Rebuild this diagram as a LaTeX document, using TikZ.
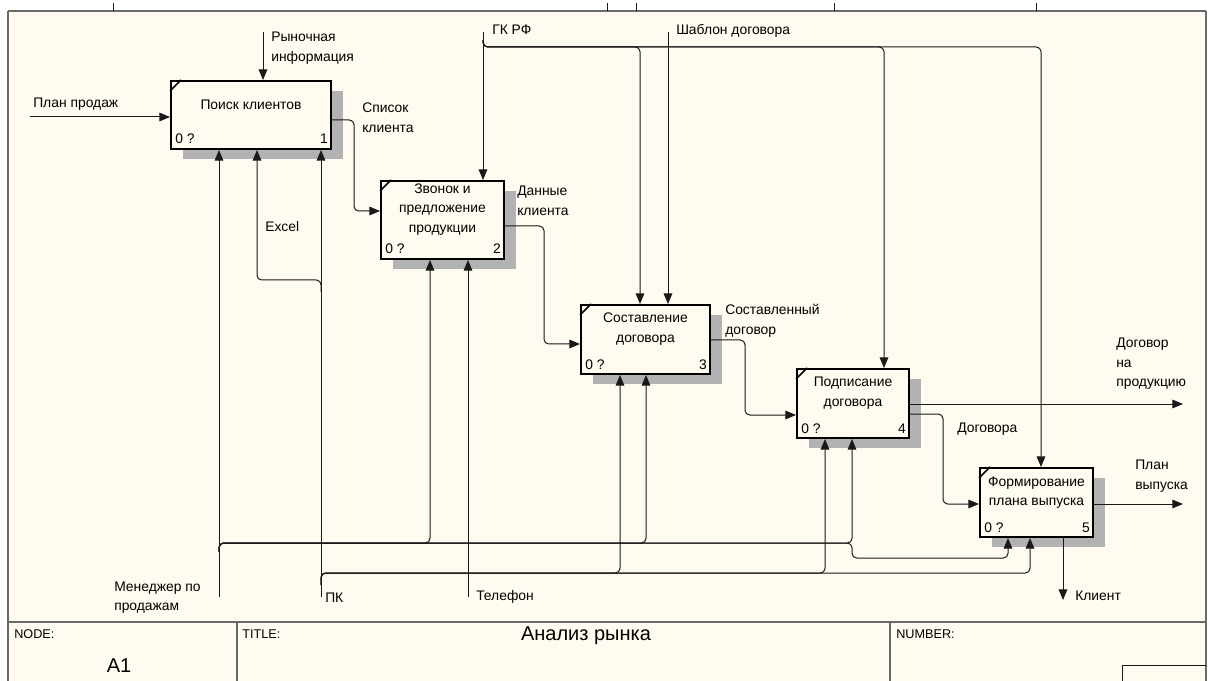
\documentclass[tikz,border=0pt]{standalone}
\usepackage{fontspec}
\setmainfont{Liberation Sans}
\usetikzlibrary{arrows.meta,shadows}
\definecolor{paper}{RGB}{255,251,240}
\definecolor{ink}{RGB}{25,25,25}
\definecolor{framegray}{RGB}{105,105,105}

\tikzset{
  flow/.style={draw=ink, line width=0.75pt, rounded corners=3.5pt,
    -{Triangle[length=8pt,width=6.5pt]}},
  fbox/.style={draw=black, line width=1.5pt, fill=paper, inner sep=0pt,
    drop shadow={shadow xshift=9pt, shadow yshift=-7.5pt, fill=gray!60, opacity=1}},
  ttl/.style={font=\fontsize{10.4}{14.6}\selectfont, align=center, inner sep=0pt},
  lbl/.style={font=\fontsize{10.4}{14.6}\selectfont, align=left, anchor=west, inner sep=0pt},
  tag/.style={font=\fontsize{10.4}{12}\selectfont, inner sep=0pt},
  hdr/.style={font=\fontsize{9.5}{11}\selectfont, anchor=west, inner sep=0pt},
  rule/.style={draw=framegray, line width=1.5pt},
}

\begin{document}
\begin{tikzpicture}[x=0.75pt,y=-0.75pt]
% sheet
\fill[white] (0,0) rectangle (1208,681);
\fill[paper] (8,11) rectangle (1206,681);
\useasboundingbox (0,0) rectangle (1208,681);

% sheet frame and title block
\draw[rule] (8,11) -- (1206,11);
\draw[rule] (8,11) -- (8,681);
\draw[rule] (1206,11) -- (1206,681);
\draw[rule] (8,622) -- (1206,622);
\draw[rule] (237,622) -- (237,681);
\draw[rule] (890,622) -- (890,681);
\draw[ink, line width=0.75pt] (1122,681) -- (1122,665) -- (1206,665);
\foreach \t in {113,607,636,834,1036}
  \draw[ink, line width=0.75pt] (\t,3) -- (\t,11);

% activity boxes
\node[fbox, minimum width=120pt,   minimum height=51pt]    (b1) at (251,115)      {};
\node[fbox, minimum width=92.25pt, minimum height=58.5pt]  (b2) at (442.5,220)    {};
\node[fbox, minimum width=96.75pt, minimum height=51.75pt] (b3) at (645.5,339.5)  {};
\node[fbox, minimum width=84pt,    minimum height=51.75pt] (b4) at (853,403.5)    {};
\node[fbox, minimum width=84.75pt, minimum height=51.75pt] (b5) at (1036.5,502.5) {};

\foreach \b/\n in {b1/1,b2/2,b3/3,b4/4,b5/5} {
  \draw[line width=1.2pt] ([shift={(0,11)}]\b.north west) -- ([shift={(11,0)}]\b.north west);
  \node[tag, anchor=base west] (\b-cost) at ([shift={(5,-6)}]\b.south west) {0 ?};
  \node[tag, anchor=base east] (\b-num)  at ([shift={(-4,-6)}]\b.south east) {\n};
}

\node[ttl] (t1) at ([shift={(0,-10.5)}]b1.center) {Поиск клиентов};
\node[ttl] (t2) at ([shift={(0,-10.5)}]b2.center) {Звонок и\\предложение\\продукции};
\node[ttl] (t3) at ([shift={(0,-10.5)}]b3.center) {Составление\\договора};
\node[ttl] (t4) at ([shift={(0,-10.5)}]b4.center) {Подписание\\договора};
\node[ttl] (t5) at ([shift={(0,-10)}]b5.center) {Формирование\\плана выпуска};

% inputs
\coordinate (plan) at (30,117);
\draw[flow] (plan) -- (plan -| b1.west);

% outputs passed down the staircase
\coordinate (o1a) at (354,120); \coordinate (o1b) at (354,211);
\draw[flow] (b1.east |- o1a) -- (o1a) -- (o1b) -- (o1b -| b2.west);
\coordinate (o2a) at (544,226); \coordinate (o2b) at (544,344);
\draw[flow] (b2.east |- o2a) -- (o2a) -- (o2b) -- (o2b -| b3.west);
\coordinate (o3a) at (745,340); \coordinate (o3b) at (745,415);
\draw[flow] (b3.east |- o3a) -- (o3a) -- (o3b) -- (o3b -| b4.west);
\coordinate (o4a) at (943,414); \coordinate (o4b) at (943,504);
\draw[flow] (b4.east |- o4a) -- (o4a) -- (o4b) -- (o4b -| b5.west);

% final outputs
\coordinate (prod) at (1183,404);
\draw[flow] (b4.east |- prod) -- (prod);
\coordinate (plan5) at (1183,504);
\draw[flow] (b5.east |- plan5) -- (plan5);
\coordinate (client) at (1063,600);
\draw[flow] (b5.south -| client) -- (client);

% controls
\coordinate (market) at (263,32);
\draw[flow] (market) -- (market |- b1.north);
\coordinate (gk) at (483,32);
\draw[flow] (gk) -- (gk |- b2.north);
\coordinate (gkb) at (483,40); \coordinate (gkj) at (483,47);
\coordinate (c3) at (640,47); \coordinate (c4) at (884,47); \coordinate (c5) at (1041,47);
\draw[flow] (gkb) -- (gkj) -- (c3) -- (c3 |- b3.north);
\draw[flow] (gkb) -- (gkj) -- (c4) -- (c4 |- b4.north);
\draw[flow] (gkb) -- (gkj) -- (c5) -- (c5 |- b5.north);
\coordinate (tpl) at (668,32);
\draw[flow] (tpl) -- (tpl |- b3.north);

% mechanism: sales manager
\coordinate (mgr) at (219,597);
\draw[flow] (mgr) -- (mgr |- b1.south);
\coordinate (mgrb) at (219,552); \coordinate (mgrj) at (219,543);
\coordinate (m2) at (430,543); \coordinate (m3) at (646,543); \coordinate (m4) at (852,543);
\coordinate (m5a) at (852,558); \coordinate (m5b) at (1008,558);
\draw[flow] (mgrb) -- (mgrj) -- (m2) -- (m2 |- b2.south);
\draw[flow] (mgrb) -- (mgrj) -- (m3) -- (m3 |- b3.south);
\draw[flow] (mgrb) -- (mgrj) -- (m4) -- (m4 |- b4.south);
\draw[flow] (mgrb) -- (mgrj) -- (m4) -- (m5a) -- (m5b) -- (m5b |- b5.south);

% mechanism: PC and Excel
\coordinate (pc) at (321,597);
\draw[flow] (pc) -- (pc |- b1.south);
\coordinate (xb) at (321,292); \coordinate (xj) at (321,280); \coordinate (xl) at (257,280);
\draw[flow] (xb) -- (xj) -- (xl) -- (xl |- b1.south);
\coordinate (pcb) at (321,585); \coordinate (pcj) at (321,573);
\coordinate (p3) at (620,573); \coordinate (p4) at (825,573); \coordinate (p5) at (1030,573);
\draw[flow] (pcb) -- (pcj) -- (p3) -- (p3 |- b3.south);
\draw[flow] (pcb) -- (pcj) -- (p4) -- (p4 |- b4.south);
\draw[flow] (pcb) -- (pcj) -- (p5) -- (p5 |- b5.south);

% mechanism: telephone
\coordinate (tel) at (468,597);
\draw[flow] (tel) -- (tel |- b2.south);

% arrow labels
\node[lbl] (lplan)   at (33,104)    {План продаж};
\node[lbl] (lmarket) at (271,48)    {Рыночная\\информация};
\node[lbl] (llist)   at (362,117.5) {Список\\клиента};
\node[lbl] (lexcel)  at (265,227)   {Excel};
\node[lbl] (lgk)     at (492,30)    {ГК РФ};
\node[lbl] (ltpl)    at (676,31)    {Шаблон договора};
\node[lbl] (ldata)   at (517,201)   {Данные\\клиента};
\node[lbl] (ldraft)  at (725,321)   {Составленный\\договор};
\node[lbl] (lprod)   at (1116,364)  {Договор\\на\\продукцию};
\node[lbl] (lcontr)  at (957,429)   {Договора};
\node[lbl] (lplan5)  at (1135,476)  {План\\выпуска};
\node[lbl] (lclient) at (1075,596)  {Клиент};
\node[lbl] (lmgr)    at (114,597.5) {Менеджер по\\продажам};
\node[lbl] (lpc)     at (325,598)   {ПК};
\node[lbl] (ltel)    at (476,597)   {Телефон};

% title block texts
\node[hdr] (lnode)   at (14,634)  {NODE:};
\node[font=\fontsize{15}{18}\selectfont, inner sep=0pt] (nodeval) at (119,666) {A1};
\node[hdr] (ltitle)  at (242,634) {TITLE:};
\node[font=\fontsize{15}{18}\selectfont, inner sep=0pt] (title) at (586,636) {Анализ рынка};
\node[hdr] (lnumber) at (896,634) {NUMBER:};
\end{tikzpicture}
\end{document}
